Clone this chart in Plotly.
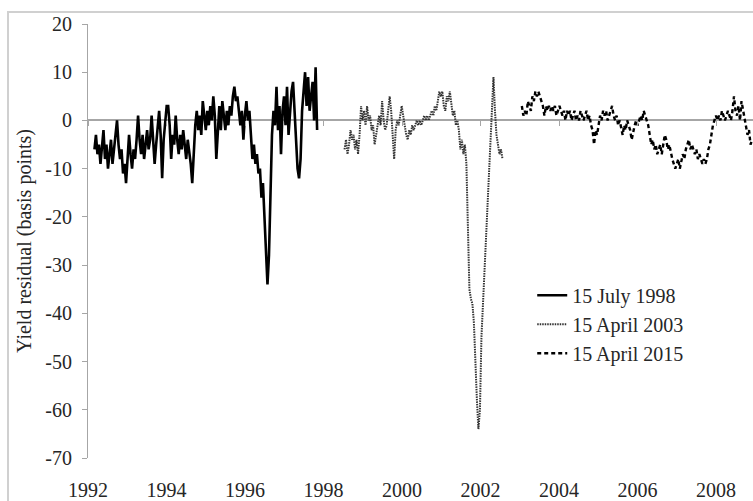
import pandas as pd
import plotly.graph_objects as go

# ---------------- data ----------------
start_1998 = "1992-03-01"
vals_1998 = [
    -6, -3, -7, -5, -9, -6, -2, -8, -5, -10,
    -7, -4, -9, -6, -3, 0, -5, -8, -6, -11,
    -9, -13, -8, -3, -7, -10, -6, -8, -4, 1,
    -4, -7, -3, -8, -5, -2, -6, -4, 1, -3,
    -9, -5, -2, 2, -3, -12, -4, 0, 3, 3,
    -1, -8, -3, -5, 1, -4, -7, -3, -6, -2,
    -5, -8, -4, -6, -9, -13, -5, -1, 2, -2,
    1, -3, 4, 0, -2, 2, -1, 3, 0, 5,
    1, -8, -1, 3, -2, 4, 1, -2, 2, -1,
    3, 1, 5, 7, 4, 5, 2, -1, 2, -4,
    1, 4, 0, 2, -3, -8, -5, -9, -7, -11,
    -10, -16, -13, -20, -25, -34, -28, -12, -3, 2,
    -1, 7, -2, 3, -7, 2, 5, -1, 7, -3,
    1, 6, 8, 2, -5, -10, -12, -8, 2, 6,
    10, 3, 9, 2, 6, 8, 0, 11, -2,
]

start_2003 = "1998-07-15"
vals_2003 = [
    -6, -4, -7, -5, -2, -4, -3, -6, -4, -7,
    -3, 3, 0, 2, -1, 3, 0, 1, -2, -1,
    -5, -3, -1, 1, -1, 4, 0, -2, -1, 2,
    5, 2, -3, -8, -2, 0, -1, 1, 3, 1,
    -1, -3, -4, -2, -3, -1, -2, -1, 0, -1,
    0, -1, 0, 1, 0, 1, 0, 1, 2, 1,
    3, 2, 4, 6, 5, 6, 3, 2, 5, 4,
    6, 3, 1, 2, -1, 0, -2, -6, -4, -7,
    -5, -9, -20, -35, -37, -38, -42, -52, -58, -64,
    -60, -45, -38, -30, -25, -18, -12, -5, 4, 9,
    2, -3, -5, -7, -6, -8,
]

start_2015 = "2003-01-20"
vals_2015 = [
    3, 1, 2, 1, 4, 3, 2, 5, 4, 6,
    5, 6, 5, 4, 3, 1, 3, 2, 3, 2,
    3, 2, 3, 1, 2, 3, 2, 1, 2, 0,
    2, 1, 2, 0, 1, 2, 0, 1, 0, 2,
    1, 0, 1, 2, 0, 1, -1, -2, -5, -2,
    -3, -1, 1, 0, 2, 1, 2, 0, 1, 2,
    3, 1, 0, 1, -1, 0, -2, -3, -1, -2,
    0, -1, -2, -4, -2, -1, 0, -1, 0, 1,
    0, 2, 1, 0, -1, -3, -5, -4, -6, -5,
    -7, -6, -5, -7, -5, -3, -4, -6, -5, -7,
    -8, -9, -10, -9, -8, -10, -8, -7, -8, -6,
    -5, -4, -6, -5, -6, -7, -6, -8, -7, -8,
    -9, -8, -9, -8, -6, -5, -3, -1, 0, 1,
    0, 1, 0, 2, 1, 0, 1, 2, 1, 0,
    2, 5, 2, 1, 3, 0, 4, 2, 0, -1,
    -3, -2, -5, -4,
]

series_names = ["15 July 1998", "15 April 2003", "15 April 2015"]
y_ticks = [20, 10, 0, -10, -20, -30, -40, -50, -60, -70]
x_tick_years = [1992, 1994, 1996, 1998, 2000, 2002, 2004, 2006, 2008]

# ---------------- figure ----------------
FONT = "Liberation Serif"
AXC = "#a6a6a6"
TXT = "#262626"

def dates(start, vals):
    return pd.date_range(start=start, periods=len(vals), freq="14D")

fig = go.Figure()
fig.add_trace(go.Scatter(x=dates(start_1998, vals_1998), y=vals_1998, mode="lines",
                         name=series_names[0], line=dict(color="#000000", width=2.6)))
fig.add_trace(go.Scatter(x=dates(start_2003, vals_2003), y=vals_2003, mode="lines",
                         name=series_names[1],
                         line=dict(color="#333333", width=2, dash="1.5px,1px")))
fig.add_trace(go.Scatter(x=dates(start_2015, vals_2015), y=vals_2015, mode="lines",
                         name=series_names[2],
                         line=dict(color="#000000", width=2.4, dash="4px,3px")))

x_range = ["1992-01-01", "2008-12-10"]
tickvals = [f"{y}-01-01" for y in x_tick_years]
zero_pos = (0 - (-70)) / (20 - (-70))

fig.update_layout(
    width=753, height=501,
    margin=dict(l=88, r=0, t=24, b=43),
    paper_bgcolor="white", plot_bgcolor="white",
    font=dict(family=FONT, size=20, color=TXT),
    showlegend=True,
    legend=dict(x=0.668, y=0.42, xanchor="left", yanchor="top",
                bgcolor="rgba(0,0,0,0)", font=dict(family=FONT, size=20, color=TXT),
                tracegroupgap=0),
    xaxis=dict(type="date", range=x_range, tickvals=tickvals,
               ticktext=[str(y) for y in x_tick_years],
               showline=False, showgrid=False, zeroline=False, ticks="",
               ticklabelstandoff=18, tickfont=dict(family=FONT, size=20, color=TXT)),
    xaxis2=dict(type="date", range=x_range, tickvals=tickvals, overlaying="x",
                anchor="free", position=zero_pos, side="bottom",
                showline=False, showgrid=False, zeroline=False,
                ticks="outside", ticklen=5, tickcolor=AXC, tickwidth=1,
                showticklabels=False),
    yaxis=dict(range=[-70, 20], tickvals=y_ticks, ticktext=[str(v) for v in y_ticks],
               showline=True, linecolor=AXC, linewidth=1,
               ticks="outside", ticklen=5, tickcolor=AXC, tickwidth=1,
               showgrid=False, zeroline=True, zerolinecolor=AXC, zerolinewidth=1.5,
               ticklabelstandoff=6,
               tickfont=dict(family=FONT, size=20, color=TXT),
               title=dict(text="Yield residual (basis points)",
                          font=dict(family=FONT, size=20, color=TXT), standoff=8)),
)

# light chart-area border
fig.add_shape(type="rect", xref="paper", yref="paper",
              x0=-0.1203, x1=1.05, y0=-0.25, y1=1.0276,
              line=dict(color="#d0d0d0", width=2), fillcolor="rgba(0,0,0,0)", layer="above")

# an invisible trace so xaxis2 gets drawn
fig.add_trace(go.Scatter(x=[x_range[0]], y=[None], xaxis="x2", showlegend=False,
                         hoverinfo="skip", mode="lines"))

fig.write_html("out.html", config={"displayModeBar": False},
               post_script="document.body.style.margin='0';document.body.style.overflow='hidden';")
